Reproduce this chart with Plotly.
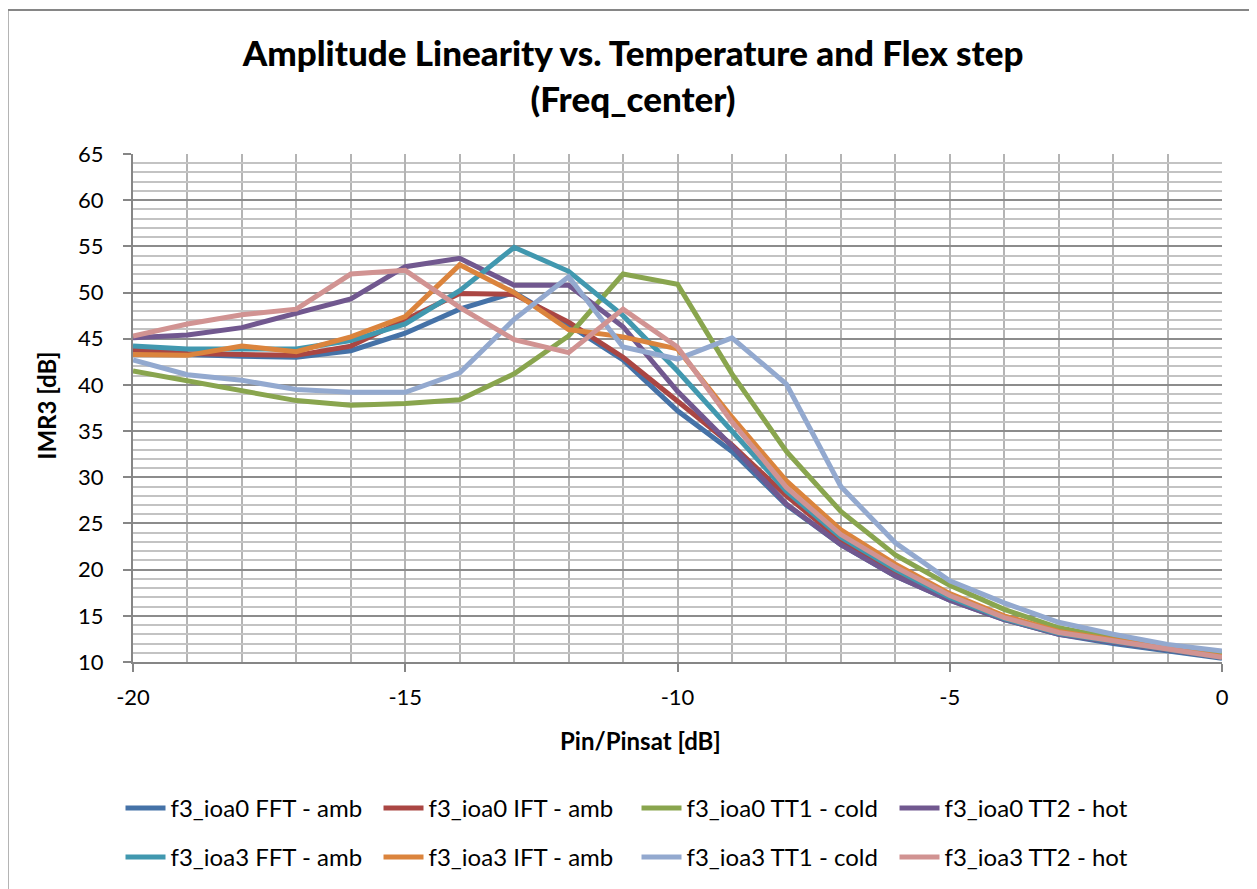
import plotly.graph_objects as go

pin = [-20, -19, -18, -17, -16, -15, -14, -13, -12, -11, -10,
       -9, -8, -7, -6, -5, -4, -3, -2, -1, 0]

ioa0_fft_amb = [43.3, 43.3, 43.1, 43.0, 43.7, 45.6, 48.2, 50.0, 46.5, 42.7, 37.2,
                32.8, 27.0, 22.7, 19.3, 16.7, 14.6, 13.0, 12.0, 11.2, 10.4]
ioa0_ift_amb = [43.8, 43.4, 43.3, 43.2, 44.2, 47.0, 49.9, 49.8, 46.8, 43.0, 38.2,
                33.5, 28.0, 23.2, 19.8, 17.0, 14.7, 13.1, 12.2, 11.3, 10.5]
ioa0_tt1_cold = [41.5, 40.4, 39.3, 38.3, 37.8, 38.0, 38.4, 41.2, 45.3, 52.0, 50.9,
                 41.2, 32.8, 26.3, 21.6, 18.3, 15.7, 13.7, 12.6, 11.7, 11.0]
ioa0_tt2_hot = [45.1, 45.4, 46.2, 47.7, 49.3, 52.8, 53.7, 50.8, 50.8, 46.3, 39.3,
                33.4, 27.1, 22.7, 19.3, 16.7, 14.6, 13.0, 12.2, 11.3, 10.5]
ioa3_fft_amb = [44.2, 43.9, 43.9, 43.9, 44.8, 46.6, 50.2, 54.9, 52.3, 47.5, 41.5,
                35.0, 28.5, 23.5, 20.0, 17.0, 14.7, 13.1, 12.2, 11.3, 10.5]
ioa3_ift_amb = [43.3, 43.2, 44.2, 43.6, 45.2, 47.4, 53.0, 50.0, 46.0, 45.2, 43.9,
                36.5, 29.6, 24.3, 20.6, 17.4, 15.0, 13.3, 12.4, 11.5, 10.6]
ioa3_tt1_cold = [42.7, 41.1, 40.5, 39.5, 39.2, 39.2, 41.3, 47.1, 51.7, 44.1, 42.8,
                 45.1, 40.1, 29.0, 22.9, 18.8, 16.4, 14.3, 13.0, 11.9, 11.2]
ioa3_tt2_hot = [45.3, 46.6, 47.6, 48.2, 52.0, 52.4, 48.4, 44.9, 43.5, 48.2, 44.1,
                36.0, 28.9, 23.8, 20.3, 17.2, 14.8, 13.2, 12.3, 11.4, 10.5]

series_names = ["f3_ioa0 FFT - amb", "f3_ioa0 IFT - amb", "f3_ioa0 TT1 - cold", "f3_ioa0 TT2 - hot",
                "f3_ioa3 FFT - amb", "f3_ioa3 IFT - amb", "f3_ioa3 TT1 - cold", "f3_ioa3 TT2 - hot"]
series_values = [ioa0_fft_amb, ioa0_ift_amb, ioa0_tt1_cold, ioa0_tt2_hot,
                 ioa3_fft_amb, ioa3_ift_amb, ioa3_tt1_cold, ioa3_tt2_hot]
colors = ["#4572A7", "#AA4643", "#89A54E", "#71588F",
          "#4198AF", "#DB843D", "#93A9CF", "#D19392"]

x_tick_vals = [-20, -15, -10, -5, 0]
x_tick_text = ["-20", "-15", "-10", "-5", "0"]

FONT = "Lato"

fig = go.Figure()
for i, (name, vals, col) in enumerate(zip(series_names, series_values, colors)):
    fig.add_trace(go.Scatter(
        x=pin, y=vals, name=name, mode="lines",
        line=dict(color=col, width=5),
        legend="legend" if i < 4 else "legend2",
    ))

# page body has an 8px margin; work in reference-image coordinates and shift
OFF = 8
W, H = 1257 - OFF, 889 - OFF
ml, mt = 132.5 - OFF, 154 - OFF
pw = 1222.5 - 132.5
ph = 661.7 - 154
mr = W - ml - pw
mb = H - mt - ph


def px_x(p):
    return (p - OFF - ml) / pw


def px_y(p):
    return (H - mb - (p - OFF)) / ph


fig.update_layout(
    width=W, height=H,
    margin=dict(l=ml, r=mr, t=mt, b=mb, autoexpand=False),
    paper_bgcolor="white", plot_bgcolor="white",
    font=dict(family=FONT, color="black"),
    title=dict(
        text="Amplitude Linearity vs. Temperature and Flex step<br>(Freq_center)",
        x=px_x(633), xanchor="center", xref="paper",
        y=1 - (66 - OFF) / H, yanchor="middle",
        font=dict(family=FONT, size=35, color="black", weight=900),
    ),
    xaxis=dict(
        range=[-20, 0], tickvals=x_tick_vals, ticktext=x_tick_text,
        showgrid=True, gridcolor="#B4B4B4", gridwidth=2,
        minor=dict(dtick=1, showgrid=True, gridcolor="#B4B4B4", gridwidth=2, ticks=""),
        showline=True, linecolor="#868686", linewidth=2,
        ticks="outside", ticklen=8, tickwidth=2, tickcolor="#868686",
        ticklabelstandoff=7,
        tickfont=dict(family=FONT, size=22, color="black"),
        zeroline=False,
    ),
    yaxis=dict(
        range=[10, 65], dtick=5, tick0=10,
        showgrid=True, gridcolor="#8C8C8C", gridwidth=2,
        minor=dict(dtick=1, showgrid=True, gridcolor="#C3C3C3", gridwidth=1.5, ticks=""),
        showline=True, linecolor="#868686", linewidth=2,
        ticks="outside", ticklen=8, tickwidth=2, tickcolor="#868686",
        ticklabelstandoff=15,
        tickfont=dict(family=FONT, size=22, color="black"),
        zeroline=False,
    ),
    annotations=[
        dict(text="Pin/Pinsat [dB]", xref="paper", yref="paper",
             x=px_x(640), y=px_y(740), xanchor="center", yanchor="middle",
             showarrow=False, font=dict(family=FONT, size=24, color="black", weight="bold")),
        dict(text="IMR3 [dB]", xref="paper", yref="paper", textangle=-90,
             x=px_x(46), y=px_y(406), xanchor="center", yanchor="middle",
             showarrow=False, font=dict(family=FONT, size=24, color="black", weight="bold")),
    ],
    legend=dict(
        orientation="h", x=px_x(120), xanchor="left",
        y=px_y(808), yanchor="middle",
        font=dict(family=FONT, size=24, color="black"),
        bgcolor="rgba(0,0,0,0)", itemwidth=40, tracegroupgap=0,
        entrywidth=203, entrywidthmode="pixels",
    ),
    legend2=dict(
        orientation="h", x=px_x(120), xanchor="left",
        y=px_y(857), yanchor="middle",
        font=dict(family=FONT, size=24, color="black"),
        bgcolor="rgba(0,0,0,0)", itemwidth=40, tracegroupgap=0,
        entrywidth=203, entrywidthmode="pixels",
    ),
    shapes=[dict(
        type="rect", xref="paper", yref="paper",
        x0=px_x(7), x1=px_x(1300), y0=px_y(950), y1=px_y(10),
        line=dict(color="#868686", width=2), fillcolor="rgba(0,0,0,0)",
        layer="below",
    )],
)

fig.write_html("out.html")
